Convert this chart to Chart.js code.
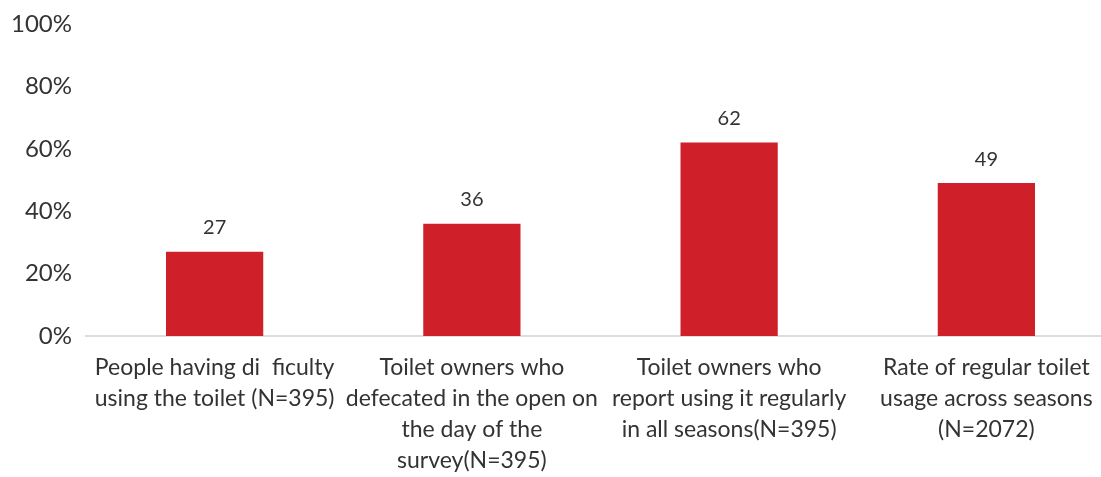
<!DOCTYPE html>
<html>
<head>
<meta charset="utf-8">
<script src="https://cdn.jsdelivr.net/npm/chart.js@4.4.1/dist/chart.umd.min.js"></script>
<style>
    html, body { margin: 0; padding: 0; background: #fff; overflow: hidden; }
    #wrap { position: relative; width: 1115px; height: 477px; }
</style>
</head>
<body>
<div id="wrap"><canvas id="chart"></canvas></div>
<script>
const categories = [
    ['People having di  ficulty', 'using the toilet (N=395)'],
    ['Toilet owners who', 'defecated in the open on', 'the day of the', 'survey(N=395)'],
    ['Toilet owners who', 'report using it regularly', 'in all seasons(N=395)'],
    ['Rate of regular toilet', 'usage across seasons', '(N=2072)']
];
const values = [27, 36, 62, 49];
const yTicks = [0, 20, 40, 60, 80, 100];

const barColor = '#cf2029';
const textColor = '#333333';
const fontFamily = "Lato, 'Open Sans', sans-serif";

// value labels above each bar
const valueLabels = {
    id: 'valueLabels',
    afterDatasetsDraw(chart) {
        const ctx = chart.ctx;
        const meta = chart.getDatasetMeta(0);
        ctx.save();
        ctx.fillStyle = textColor;
        ctx.font = '20px ' + fontFamily;
        ctx.textAlign = 'center';
        ctx.textBaseline = 'middle';
        meta.data.forEach((bar, i) => {
            ctx.fillText(String(values[i]), bar.x, bar.y - 24);
        });
        ctx.restore();
    }
};

new Chart(document.getElementById('chart').getContext('2d'), {
    type: 'bar',
    data: {
        labels: categories,
        datasets: [{
            data: values,
            backgroundColor: barColor,
            borderWidth: 0,
            barPercentage: 0.378,
            categoryPercentage: 1
        }]
    },
    options: {
        responsive: true,
        maintainAspectRatio: false,
        animation: false,
        layout: { padding: { top: 24, right: 0, bottom: 0, left: 0 } },
        plugins: {
            legend: { display: false },
            tooltip: { enabled: false }
        },
        scales: {
            x: {
                grid: { display: false },
                border: { color: '#dddddd', width: 2 },
                ticks: {
                    color: textColor,
                    font: { family: fontFamily, size: 23, lineHeight: 1.35 },
                    padding: 8,
                    maxRotation: 0,
                    autoSkip: false
                },
                afterFit(scale) { scale.height = 141; }
            },
            y: {
                min: 0,
                max: 100,
                grid: { display: false },
                border: { display: false },
                afterBuildTicks(scale) {
                    scale.ticks = yTicks.map(v => ({ value: v }));
                },
                ticks: {
                    color: textColor,
                    font: { family: fontFamily, size: 24 },
                    padding: 6,
                    callback: v => v + '%'
                },
                afterFit(scale) { scale.width = 86; }
            }
        }
    },
    plugins: [valueLabels]
});
</script>
</body>
</html>
